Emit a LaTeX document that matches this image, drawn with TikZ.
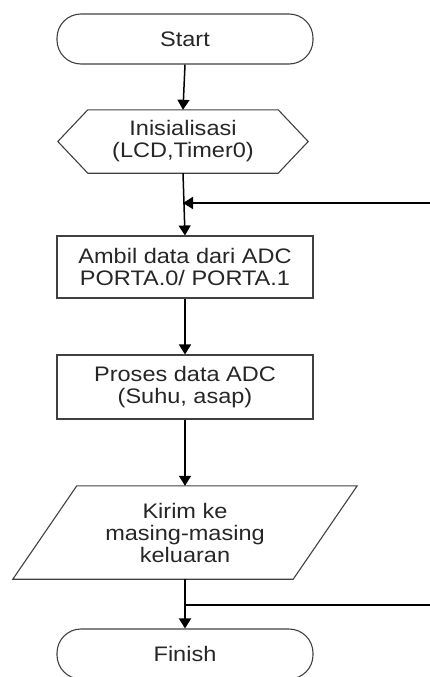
\documentclass[tikz,border=0pt]{standalone}
\usepackage{fontspec}
\setmainfont{Liberation Sans}[FakeStretch=1.12]
\usetikzlibrary{arrows.meta}
\begin{document}
\begin{tikzpicture}[x=1pt,y=-1pt,
  shapeline/.style={draw=black!75, line width=1.1pt},
  txt/.style={font=\fontsize{21}{22}\selectfont, align=center, text=black!85, inner sep=0pt},
  term/.style={shapeline, txt, rectangle, rounded corners=24pt, minimum width=256pt, minimum height=50pt},
  procbox/.style={shapeline, txt, rectangle, minimum width=256pt, minimum height=62pt},
  conn/.style={draw=black, line width=1.5pt},
  arr/.style={conn, -{Triangle[width=12pt,length=10pt]}}
]
\useasboundingbox (0,0) rectangle (430,677);
\node[term] (start) at (185,39) {Start};
\node[txt, minimum width=250pt, minimum height=63pt] (init) at (183,141.5) {Inisialisasi\\(LCD,Timer0)};
\draw[shapeline] (init.west) -- ([xshift=30pt]init.north west) -- ([xshift=-30pt]init.north east)
  -- (init.east) -- ([xshift=-30pt]init.south east) -- ([xshift=30pt]init.south west) -- cycle;
\node[procbox] (ambil) at (185,267) {Ambil data dari ADC\\PORTA.0/ PORTA.1};
\node[procbox, minimum height=64pt] (proses) at (185,387) {Proses data ADC\\(Suhu, asap)};
\node[txt, minimum width=344pt, minimum height=93pt] (kirim) at (185,532.5) {Kirim ke\\masing-masing\\keluaran};
\draw[shapeline] (kirim.south west) -- ([xshift=64pt]kirim.north west) -- (kirim.north east)
  -- ([xshift=-64pt]kirim.south east) -- cycle;
\node[term] (finish) at (185,654) {Finish};
\coordinate (fb1) at (430,203);
\coordinate (fb2) at (430,605);
\draw[arr] (start.south) -- (init.north);
\draw[arr] (init.south) -- (ambil.north);
\draw[arr] (fb1) -- (init.south |- fb1);
\draw[arr] (ambil.south) -- (proses.north);
\draw[arr] (proses.south) -- (kirim.north);
\draw[arr] (kirim.south) -- (finish.north);
\draw[conn] (fb2) -- (kirim.south |- fb2);
\end{tikzpicture}
\end{document}
